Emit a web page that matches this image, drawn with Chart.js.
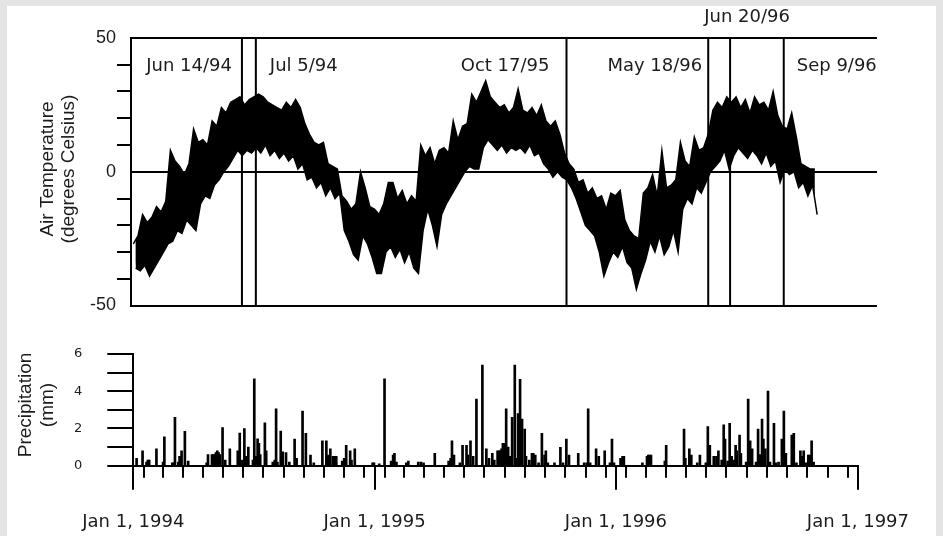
<!DOCTYPE html>
<html>
<head>
<meta charset="utf-8">
<title>Air temperature and precipitation</title>
<script src="https://cdn.jsdelivr.net/npm/chart.js@4.4.1/dist/chart.umd.min.js"></script>
<style>
  html, body { margin: 0; padding: 0; background: #e4e4e4; }
  #wrap { position: relative; width: 943px; height: 536px; overflow: hidden; }
  #panel { position: absolute; left: 7px; top: 6px; width: 929px; height: 530px; background: #fff; }
  canvas { position: absolute; left: 0; top: 0; }
</style>
</head>
<body>
<div id="wrap">
  <div id="panel"></div>
  <canvas id="tempChart" width="943" height="536"></canvas>
  <canvas id="precipChart" width="943" height="536"></canvas>
</div>
<script>
// x values are days counted from Jan 1, 1994

// air temperature, upper and lower edge of the trace for each week (deg C)
var weeklyHigh = [
  -27, -24, -16, -19, -17, -13, -15, -11, 8, 4, 2, -1, 3,
  16, 11, 12, 10, 19, 17, 24, 22, 26, 27, 28, 25, 27,
  28, 29, 28, 26, 25, 24, 23, 26, 24, 27, 24, 18, 14, 11, 10, 11, 3, 2, 1, -9, -11, -14, -12, 0, -6, -13,
  -14, -16, -12, -4, -4, -10, -7, -12, -9, -11, 10, 6, 9, 3, 8, 9, 7, 19, 12,
  17, 18, 29, 26, 30, 34, 28, 26, 24, 25, 22, 24, 31, 23, 22, 24, 21,
  25, 19, 17, 19, 14, 7, 3, 1, -4, -3, -8, -6, -10, -9, -14, -8,
  -9, -7, -18, -22, -24, -25, -8, -6, -1, -9, 8, -6, -5, -3, 11, 4, 2, 13, 8, 9,
  14, 23, 26, 24, 28, 26, 28, 24, 27, 22, 28, 25, 26, 23, 30, 21, 17, 16, 22, 13, 3, 2, 1, 1
];
var weeklyLow = [
  -36, -37, -35, -39, -36, -33, -30, -27, -26, -22, -23, -18, -20,
  -22, -12, -9, -10, -5, -3, 0, 2, 5, 8, 6, 8, 7,
  9, 7, 10, 6, 8, 5, 7, 4, 6, 1, 3, -3, -2, -6, -4, -9, -6, -10, -8, -22, -26, -31, -33, -24, -27, -32,
  -38, -38, -30, -28, -32, -29, -34, -30, -36, -38, -22, -14, -20, -28, -16, -12, -9, -6, -3,
  0, 2, 1, 1, 9, 12, 10, 8, 10, 7, 9, 8, 9, 7, 10, 6, 7,
  3, 1, -2, 0, -2, -3, -6, -10, -15, -20, -22, -24, -30, -39, -34, -30,
  -32, -28, -34, -36, -44, -38, -33, -26, -30, -24, -31, -28, -22, -30, -14, -10, -12, -6, -8, -4,
  0, 2, 4, 8, 1, 6, 9, 7, 5, 8, 6, 3, 7, 2, 4, -4, 1, -1, 0, -6, -4, -9, -5, -16
];

var eventDays = [164, 185, 654, 868, 901, 982];
var eventLabels = ["Jun 14/94", "Jul 5/94", "Oct 17/95", "May 18/96", "Jun 20/96", "Sep 9/96"];

// daily precipitation (mm), only the days with rain
var precipDays = [
  5, 14, 20, 22, 24, 35, 45, 47, 59, 61, 63, 68, 70, 73, 78, 83, 111, 113, 119, 121,
  123, 125, 127, 129, 131, 135, 139, 146, 158, 161, 165, 168, 170, 174, 181, 183, 186, 188, 190, 192,
  199, 201, 211, 214, 216, 218, 223, 226, 231, 236, 244, 247, 256, 261, 268, 273, 286, 292, 294, 298,
  302, 305, 307, 316, 319, 322, 328, 330, 335, 362, 364,
  372, 380, 390, 393, 395, 398, 413, 416, 431, 435, 439, 456, 477, 480, 482, 485, 494, 498, 504, 506,
  510, 514, 519, 528, 534, 538, 543, 546, 551, 553, 555, 557, 559, 561, 564, 567, 570, 573, 577, 580,
  582, 585, 588, 592, 594, 599, 603, 605, 608, 613, 618, 622, 624, 627, 637, 646, 650, 655, 659, 673,
  682, 686, 688, 691, 700, 704, 713, 721, 724, 727,
  737, 740, 742, 770, 777, 779, 781, 783, 804, 806, 833, 835, 841, 844, 853, 857, 866, 869, 872, 878,
  882, 885, 890, 893, 895, 899, 902, 905, 909, 911, 913, 917, 919, 927, 930, 933, 936, 942, 945, 948,
  951, 953, 956, 960, 963, 969, 972, 976, 981, 984, 987, 996, 999, 1003, 1009, 1012, 1014, 1018, 1021, 1023,
  1026, 1029
];
var precipMm = [
  0.4, 0.8, 0.2, 0.3, 0.3, 0.9, 0.2, 1.55, 0.15, 0.15, 2.6, 0.2, 0.5, 0.8, 1.85, 0.25, 0.15, 0.6, 0.6, 0.6,
  0.6, 0.7, 0.8, 0.7, 0.6, 2.05, 0.3, 0.9, 0.8, 1.75, 0.3, 2.0, 0.5, 1.0, 0.3, 4.66, 0.5, 1.45, 1.2, 0.6,
  2.3, 0.8, 0.2, 0.3, 3.05, 0.2, 1.86, 0.75, 0.7, 0.2, 1.43, 0.4, 2.94, 1.74, 0.57, 0.15, 1.33, 1.33, 0.57, 0.9,
  0.5, 0.5, 0.5, 0.25, 0.4, 1.1, 0.8, 0.3, 0.9, 0.15, 0.15,
  0.1, 4.66, 0.25, 0.57, 0.66, 0.2, 0.15, 0.25, 0.2, 0.2, 0.15, 0.66, 0.25, 0.4, 1.33, 0.57, 0.15, 1.1, 1.1, 0.57,
  1.33, 0.5, 3.58, 5.41, 0.9, 0.4, 0.66, 0.3, 0.8, 0.8, 0.8, 0.9, 1.2, 1.2, 3.05, 1.0, 0.5, 2.6, 5.41, 0.4,
  2.8, 4.64, 2.5, 1.97, 0.5, 0.3, 0.66, 0.66, 0.57, 0.15, 1.74, 0.57, 0.8, 0.15, 0.15, 0.99, 0.15, 1.43, 0.57, 0.66,
  0.15, 0.15, 3.05, 0.15, 0.9, 0.5, 0.8, 0.15, 1.43, 0.15,
  0.4, 0.5, 0.5, 0.15, 0.5, 0.57, 0.57, 0.57, 0.25, 1.1, 1.97, 0.4, 0.9, 0.57, 0.15, 0.57, 0.15, 2.1, 1.1, 0.5,
  0.5, 0.8, 0.3, 2.19, 1.43, 0.25, 2.28, 0.5, 0.3, 1.1, 0.8, 1.65, 0.66, 0.2, 3.58, 1.33, 0.9, 0.2, 1.97, 0.6,
  2.5, 1.43, 0.9, 4.01, 0.2, 2.28, 0.15, 0.2, 1.43, 2.94, 0.66, 1.65, 1.74, 0.15, 0.8, 0.5, 0.8, 0.15, 0.57, 0.57,
  1.33, 0.2
];

// axis ticks
var tempTicks = [-50, -40, -30, -20, -10, 0, 10, 20, 30, 40, 50];
var tempTickLabels = [50, 0, -50];
var precipTicks = [0, 1, 2, 3, 4, 5, 6];
var precipTickLabels = [0, 2, 4, 6];
var monthTicks = [
  0, 31, 59, 90, 120, 151, 181, 212, 243, 273, 304, 334,
  365, 396, 424, 455, 485, 516, 546, 577, 608, 638, 669, 699,
  730, 761, 790, 821, 851, 882, 912, 943, 974, 1004, 1035, 1065, 1096
];
var yearTicks = [0, 365, 730, 1096];
var yearLabels = ["Jan 1, 1994", "Jan 1, 1995", "Jan 1, 1996", "Jan 1, 1997"];

var INK = "#000";
var TEXT = "#1c1c1c";
var NONE = "rgba(0,0,0,0)";

// upper edge at the start of each week, lower edge half a week later
var highPoints = weeklyHigh.map(function (v, w) { return { x: w * 7, y: v }; });
var lowPoints = weeklyLow.map(function (v, w) { return { x: w * 7 + 3.5, y: v }; });

var tempDatasets = [{
  data: highPoints,
  borderColor: INK,
  borderWidth: 1.5,
  backgroundColor: INK,
  fill: "+1",
  pointRadius: 0,
  tension: 0
}, {
  data: lowPoints,
  borderColor: INK,
  borderWidth: 1.5,
  pointRadius: 0,
  tension: 0
}];
eventDays.forEach(function (d) {
  tempDatasets.push({
    data: [{ x: d, y: -50 }, { x: d, y: 50 }],
    borderColor: INK,
    borderWidth: 2,
    pointRadius: 0
  });
});

// where each event label sits next to its line: [align, dx, y]
var eventLabelPlace = [
  ["right", -10, 66], ["left", 14, 66], ["right", -17, 66],
  ["right", -6, 66], ["center", 17, 17], ["left", 13, 66]
];

function rotatedLines(ctx, lines, xs, cy) {
  ctx.save();
  ctx.font = '19px "Liberation Sans"';
  ctx.fillStyle = TEXT;
  ctx.textAlign = "center";
  ctx.textBaseline = "middle";
  for (var i = 0; i < lines.length; i++) {
    ctx.save();
    ctx.translate(xs[i], cy);
    ctx.rotate(-Math.PI / 2);
    ctx.fillText(lines[i], 0, 0);
    ctx.restore();
  }
  ctx.restore();
}

var tempDecor = {
  id: "tempDecor",
  afterDraw: function (chart) {
    var ctx = chart.ctx;
    var xs = chart.scales.x;
    ctx.save();
    ctx.font = '18px "DejaVu Sans"';
    ctx.fillStyle = TEXT;
    ctx.textBaseline = "middle";
    eventDays.forEach(function (d, i) {
      var p = eventLabelPlace[i];
      ctx.textAlign = p[0];
      ctx.fillText(eventLabels[i], xs.getPixelForValue(d) + p[1], p[2]);
    });
    ctx.restore();
    rotatedLines(ctx, ["Air Temperature", "(degrees Celsius)"], [48, 69], 169);
  }
};

var precipDecor = {
  id: "precipDecor",
  afterDraw: function (chart) {
    var ctx = chart.ctx;
    var xs = chart.scales.x;
    var y0 = chart.chartArea.bottom;
    ctx.save();
    ctx.strokeStyle = INK;
    ctx.lineWidth = 2;
    yearTicks.forEach(function (d) {
      var px = Math.round(xs.getPixelForValue(d));
      ctx.beginPath();
      ctx.moveTo(px, y0);
      ctx.lineTo(px, y0 + 24);
      ctx.stroke();
    });
    ctx.restore();
    rotatedLines(ctx, ["Precipitation", "(mm)"], [26, 48], 405);
  }
};

new Chart(document.getElementById("tempChart"), {
  type: "line",
  data: { datasets: tempDatasets },
  options: {
    responsive: false,
    animation: false,
    layout: { padding: { left: 0, right: 66, top: 38, bottom: 230.5 } },
    plugins: { legend: { display: false }, tooltip: { enabled: false } },
    scales: {
      x: { type: "linear", display: false, min: -3.5, max: 1122.8 },
      y: {
        min: -50, max: 50,
        afterBuildTicks: function (s) { s.ticks = tempTicks.map(function (v) { return { value: v }; }); },
        afterFit: function (s) { s.width = 131; },
        grid: {
          color: function (c) { return tempTickLabels.indexOf(c.tick.value) >= 0 ? INK : NONE; },
          tickColor: function (c) { return tempTickLabels.indexOf(c.tick.value) >= 0 ? NONE : INK; },
          lineWidth: 2,
          tickLength: 14
        },
        border: { display: true, color: INK, width: 2 },
        ticks: {
          padding: 1,
          color: TEXT,
          font: { family: "Liberation Sans", size: 18 },
          callback: function (v) { return tempTickLabels.indexOf(v) >= 0 ? String(v) : ""; }
        }
      }
    }
  },
  plugins: [tempDecor]
});

new Chart(document.getElementById("precipChart"), {
  type: "bar",
  data: {
    datasets: [{
      data: precipDays.map(function (d, i) { return { x: d, y: precipMm[i] }; }),
      backgroundColor: INK,
      borderWidth: 0,
      barThickness: 2
    }]
  },
  options: {
    responsive: false,
    animation: false,
    layout: { padding: { left: 0, right: 84, top: 354, bottom: 0 } },
    plugins: { legend: { display: false }, tooltip: { enabled: false } },
    scales: {
      x: {
        type: "linear", min: 0, max: 1096, offset: false,
        afterBuildTicks: function (s) { s.ticks = monthTicks.map(function (v) { return { value: v }; }); },
        afterFit: function (s) { s.height = 70.3; },
        grid: { drawOnChartArea: false, tickLength: 12, tickColor: INK, lineWidth: 2 },
        border: { display: true, color: INK, width: 2 },
        ticks: {
          autoSkip: false, maxRotation: 0, padding: 34,
          color: TEXT,
          font: { family: "DejaVu Sans", size: 18 },
          callback: function (v) { var i = yearTicks.indexOf(v); return i < 0 ? "" : yearLabels[i]; }
        }
      },
      y: {
        min: 0, max: 6,
        afterBuildTicks: function (s) { s.ticks = precipTicks.map(function (v) { return { value: v }; }); },
        afterFit: function (s) { s.width = 133.3; },
        grid: { drawOnChartArea: false, tickLength: 26, tickColor: INK, lineWidth: 2 },
        border: { display: true, color: INK, width: 2 },
        ticks: {
          padding: 25,
          color: TEXT,
          font: { family: "DejaVu Sans", size: 13 },
          callback: function (v) { return precipTickLabels.indexOf(v) >= 0 ? String(v) : ""; }
        }
      }
    }
  },
  plugins: [precipDecor]
});
</script>
</body>
</html>
